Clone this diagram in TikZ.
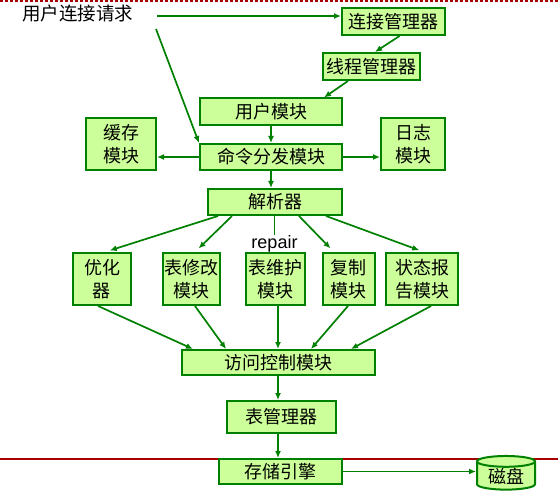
\documentclass[tikz,border=0pt]{standalone}
\usepackage{fontspec}
\setmainfont{Noto Sans CJK SC}
\newfontfamily\latinfont{Liberation Sans}
\usetikzlibrary{shapes.geometric,arrows.meta}

\definecolor{boxgreen}{RGB}{204,255,153}
\definecolor{linegreen}{RGB}{0,128,0}
\definecolor{rulered}{RGB}{168,0,0}

\tikzset{
	module/.style={draw=linegreen, fill=boxgreen, line width=2pt, inner sep=0pt,
		font=\fontsize{18}{23}\selectfont, align=center},
	flow/.style={draw=linegreen, line width=1.7pt, -{Latex[length=7pt,width=6pt]}},
	rail/.style={draw=linegreen, line width=1.7pt},
}

\begin{document}
\begin{tikzpicture}[x=1pt,y=-1pt]
	\useasboundingbox (0,0) rectangle (558,495);
	
	% red rules
	\draw[rulered, line width=2pt, dash pattern=on 3pt off 2pt] (0,1) -- (558,1);
	\draw[rulered, line width=1.8pt] (0,459) -- (558,459);
	
	% request
	\node[font=\fontsize{18.5}{20}\selectfont, inner sep=0pt] (req) at (78,13) {用户连接请求};
	\coordinate (reqa) at (157,16);
	\coordinate (reqb) at (156,29);
	
	% upper modules
	\node[module, minimum width=103, minimum height=27] (conn) at (393.5,21.5) {连接管理器};
	\node[module, minimum width=97, minimum height=27] (thread) at (371,66.5) {线程管理器};
	\node[module, minimum width=142, minimum height=27] (user) at (271,112) {用户模块};
	\node[module, minimum width=70, minimum height=52] (cache) at (121,144) {缓存\\模块};
	\node[module, minimum width=142, minimum height=26] (dispatch) at (271,157) {命令分发模块};
	\node[module, minimum width=64, minimum height=52] (log) at (413,144) {日志\\模块};
	\node[module, minimum width=134, minimum height=26] (parser) at (275,202) {解析器};
	
	% middle row
	\node[module, minimum width=58, minimum height=52] (opt) at (102,279) {优化\\器};
	\node[module, minimum width=57, minimum height=52] (alter) at (191.5,279) {表修改\\模块};
	\node[module, minimum width=59, minimum height=52] (maint) at (275,279) {表维护\\模块};
	\node[module, minimum width=52, minimum height=52] (copy) at (348.5,279) {复制\\模块};
	\node[module, minimum width=72, minimum height=52] (status) at (422,279) {状态报\\告模块};
	\node[font=\latinfont\fontsize{18}{20}\selectfont, inner sep=0pt] (repair) at (274.5,244) {repair};
	
	% lower modules
	\node[module, minimum width=193, minimum height=25] (access) at (278,362.5) {访问控制模块};
	\node[module, minimum width=109, minimum height=32] (table) at (281.5,417) {表管理器};
	\node[module, minimum width=123, minimum height=25] (storage) at (280.5,471.5) {存储引擎};
	\node[module, shape=cylinder, shape border rotate=90, aspect=0.3,
		minimum width=58, minimum height=31] (disk) at (506,476) {磁盘};
	
	% connections
	\draw[flow] (reqa) -- (conn.west |- reqa);
	\draw[flow] (reqb) -- (dispatch.north west);
	\draw[flow] ([xshift=6]conn.south) -- ([xshift=4]thread.north);
	\draw[flow] ([xshift=-23]thread.south) -- ([xshift=53]user.north);
	\draw[flow] (user.south) -- (dispatch.north);
	\draw[flow] (dispatch.west) -- (dispatch.west -| cache.east);
	\draw[flow] (dispatch.east) -- (dispatch.east -| log.west);
	\draw[flow] (dispatch.south) -- (dispatch.south |- parser.north);
	
	\draw[flow, shorten >=5pt] ([xshift=-57]parser.south) -- ([xshift=3]opt.north);
	\draw[flow, shorten >=5pt] ([xshift=-43]parser.south) -- ([xshift=3.5]alter.north);
	\draw[rail] (parser.south -| repair.north) -- (repair.north);
	\draw[flow, shorten >=5pt] ([xshift=24]parser.south) -- ([xshift=-14.5]copy.north);
	\draw[flow, shorten >=5pt] ([xshift=51]parser.south) -- ([xshift=2]status.north);
	
	\draw[flow] ([xshift=-4]opt.south) -- ([xshift=-85]access.north);
	\draw[flow] ([xshift=3.5]alter.south) -- ([xshift=-52]access.north);
	\draw[flow] (maint.south -| access.north) -- (access.north);
	\draw[flow] ([xshift=-0.5]copy.south) -- ([xshift=33]access.north);
	\draw[flow] ([xshift=9]status.south) -- ([xshift=73]access.north);
	
	\draw[flow] (access.south) -- (access.south |- table.north);
	\draw[flow] (access.south |- table.south) -- (access.south |- storage.north);
	\draw[flow] (storage.east) -- (storage.east -| disk.west);
\end{tikzpicture}
\end{document}
